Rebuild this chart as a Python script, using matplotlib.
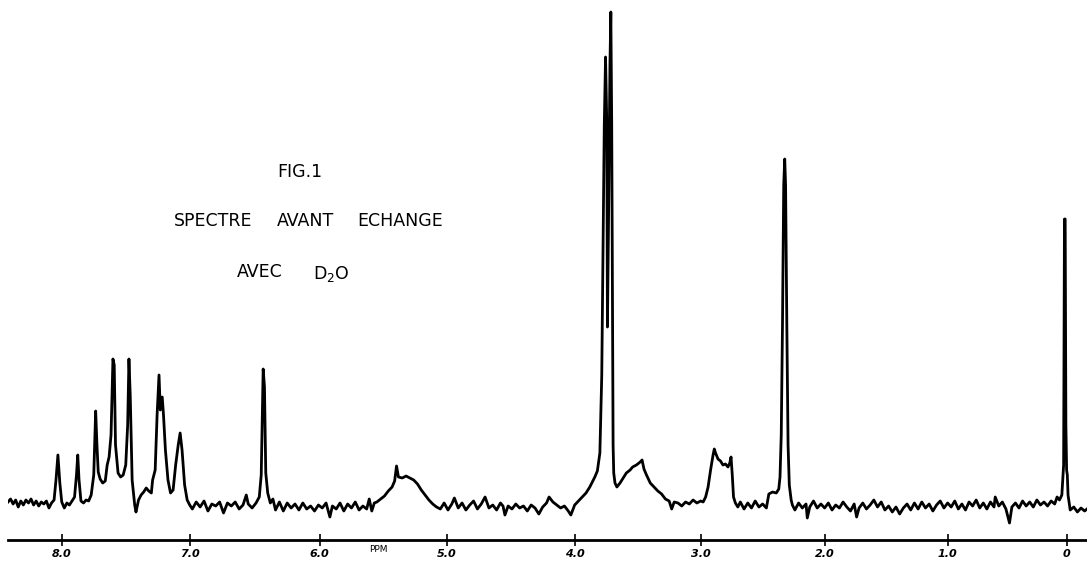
import numpy as np
import matplotlib
matplotlib.use("Agg")
import matplotlib.pyplot as plt

# spectrum trace: (ppm, signal in arbitrary units)
trace = [
    (8.42, 3), (8.40, 6), (8.38, 1), (8.36, 5), (8.34, -2), (8.32, 4), (8.30, 0), (8.28, 5),
    (8.26, 2), (8.24, 6), (8.22, 0), (8.20, 4), (8.18, -1), (8.16, 3), (8.14, 1), (8.12, 4),
    (8.10, -3), (8.08, 2), (8.06, 5), (8.045, 25), (8.03, 50), (8.015, 22), (8.00, 3),
    (7.98, -3), (7.96, 2), (7.94, 0), (7.92, 4), (7.90, 8), (7.885, 30), (7.875, 50),
    (7.865, 25), (7.85, 4), (7.83, 2), (7.81, 5), (7.79, 4), (7.77, 10), (7.75, 30),
    (7.735, 94), (7.725, 60), (7.715, 33), (7.70, 26), (7.68, 22), (7.66, 24), (7.645, 40),
    (7.63, 48), (7.615, 70), (7.60, 146), (7.59, 140), (7.58, 60), (7.56, 32), (7.54, 28),
    (7.52, 30), (7.50, 40), (7.485, 80), (7.475, 146), (7.465, 110), (7.45, 25), (7.43, 0),
    (7.42, -7), (7.40, 5), (7.38, 10), (7.36, 13), (7.34, 17), (7.32, 14), (7.30, 12),
    (7.29, 25), (7.27, 35), (7.255, 90), (7.24, 130), (7.23, 95), (7.215, 108), (7.205, 90),
    (7.19, 55), (7.17, 25), (7.15, 12), (7.13, 15), (7.11, 40), (7.09, 60), (7.075, 72),
    (7.06, 55), (7.04, 20), (7.02, 5), (7.00, 0),
    (6.98, -4), (6.95, 3), (6.92, -2), (6.89, 4), (6.86, -6), (6.83, 1), (6.80, -1), (6.77, 3),
    (6.74, -8), (6.71, 2), (6.68, -1), (6.65, 3), (6.62, -4), (6.59, 0), (6.565, 10), (6.55, 1),
    (6.52, -3), (6.49, 2), (6.465, 8), (6.45, 30), (6.435, 136), (6.425, 118), (6.415, 32),
    (6.40, 12), (6.38, 2), (6.36, 6), (6.34, -5), (6.31, 3), (6.28, -6), (6.25, 2), (6.22, -3),
    (6.19, 1), (6.16, -5), (6.13, 2), (6.10, -4), (6.07, -1), (6.04, -6), (6.01, 0), (5.98, -3),
    (5.95, 2), (5.92, -12), (5.90, -1), (5.87, -4), (5.84, 2), (5.81, -6), (5.78, 1), (5.75, -3),
    (5.72, 3), (5.69, -5), (5.66, -1), (5.63, -4), (5.61, 6), (5.59, -6), (5.57, 2),
    (5.55, 3), (5.52, 6), (5.49, 9), (5.46, 14), (5.43, 18), (5.41, 24), (5.395, 39),
    (5.38, 28), (5.35, 27), (5.32, 29), (5.29, 27), (5.26, 25), (5.23, 21), (5.20, 15),
    (5.17, 10), (5.14, 5), (5.11, 1), (5.08, -2), (5.05, -4),
    (5.02, 2), (4.99, -5), (4.96, 1), (4.94, 7), (4.91, -3), (4.88, 2), (4.85, -5), (4.82, 0),
    (4.79, 4), (4.76, -4), (4.73, 1), (4.70, 8), (4.67, -3), (4.64, 0), (4.61, -5), (4.58, 2),
    (4.56, -1), (4.545, -10), (4.52, -1), (4.49, -4), (4.46, 1), (4.43, -3), (4.40, -1),
    (4.37, -6), (4.34, 0), (4.31, -3), (4.28, -9), (4.25, -2), (4.22, 2), (4.20, 8), (4.17, 3),
    (4.14, 0), (4.11, -3), (4.08, -1), (4.05, -6), (4.03, -10), (4.00, 0), (3.97, 4), (3.94, 8),
    (3.91, 12), (3.88, 18), (3.86, 23),
    (3.84, 28), (3.82, 34), (3.80, 52), (3.785, 130), (3.775, 260), (3.765, 380), (3.755, 448),
    (3.745, 380), (3.74, 178), (3.73, 300), (3.72, 440), (3.713, 493), (3.706, 380), (3.70, 200),
    (3.695, 60), (3.69, 32), (3.68, 22),
    (3.665, 18), (3.64, 22), (3.62, 26), (3.59, 32), (3.56, 35), (3.54, 38), (3.51, 40),
    (3.48, 43), (3.465, 45), (3.45, 36), (3.43, 30), (3.40, 22), (3.37, 18), (3.34, 14),
    (3.31, 11), (3.28, 6), (3.25, 4), (3.23, -4), (3.21, 3), (3.18, 2), (3.15, -1), (3.12, 3),
    (3.09, 1), (3.06, 5), (3.03, 2), (3.00, 4), (2.98, 3),
    (2.96, 8), (2.94, 18), (2.92, 35), (2.90, 50), (2.89, 56), (2.88, 52), (2.86, 46),
    (2.84, 44), (2.82, 40), (2.80, 41), (2.78, 38), (2.765, 42), (2.755, 48), (2.745, 30),
    (2.735, 8), (2.72, 2), (2.70, -2),
    (2.68, 3), (2.65, -4), (2.62, 2), (2.59, -3), (2.56, 4), (2.53, -2), (2.50, 1), (2.47, -3),
    (2.45, 11), (2.42, 13), (2.39, 12), (2.37, 16), (2.36, 28), (2.35, 70), (2.34, 180),
    (2.33, 320), (2.322, 346), (2.315, 320), (2.305, 180), (2.295, 60), (2.285, 20),
    (2.27, 5), (2.26, 0), (2.24, -5), (2.21, 2), (2.18, -3), (2.15, 1), (2.14, -13), (2.12, -2),
    (2.09, 4), (2.06, -3), (2.03, 1),
    (2.00, -3), (1.97, 2), (1.94, -5), (1.91, 0), (1.88, -3), (1.85, 3), (1.82, -2), (1.79, -6),
    (1.76, 1), (1.74, -12), (1.72, -3), (1.69, 2), (1.66, -4), (1.63, 0), (1.60, 5), (1.57, -2),
    (1.54, 3), (1.51, -5), (1.48, -1), (1.45, -7), (1.42, -2), (1.39, -9), (1.36, -3), (1.33, 1),
    (1.30, -5), (1.27, 2), (1.24, -4), (1.21, 3), (1.18, -3), (1.15, 1), (1.12, -6), (1.09, 0),
    (1.06, 4), (1.03, -3), (1.00, 2), (0.97, -2), (0.94, 4), (0.91, -4), (0.88, 1), (0.85, -5),
    (0.82, 3), (0.79, -1), (0.76, 5), (0.73, -3), (0.70, 2), (0.67, -4), (0.64, 3), (0.61, -2),
    (0.60, 8), (0.57, -1), (0.54, 3), (0.51, -4), (0.48, -18), (0.46, -2), (0.43, 2), (0.40, -3),
    (0.37, 4), (0.34, -1), (0.31, 3), (0.28, -2), (0.25, 5), (0.22, 0), (0.19, 3), (0.16, -1),
    (0.13, 4), (0.10, 1),
    (0.08, 8), (0.06, 5), (0.04, 10), (0.025, 40), (0.018, 286), (0.012, 286), (0.006, 80),
    (0.0, 35), (-0.006, 30), (-0.012, 10), (-0.03, -5), (-0.06, -2), (-0.09, -7), (-0.12, -3),
    (-0.15, -6), (-0.17, -4),
]
ppm = np.array([p for p, _ in trace])
signal = np.array([s for _, s in trace])

tick_ppm = [8, 7, 6, 5, 4, 3, 2, 1, 0]
tick_labels = ["8.0", "7.0", "6.0", "5.0", "4.0", "3.0", "2.0", "1.0", "0"]

# the recorder paper is not perfectly linear: where each ppm mark sits (px)
cal_ppm = np.array([-1, 0, 1, 2, 3, 4, 5, 6, 7, 8, 9])
cal_px = np.array([1187, 1067, 948, 825, 701, 575, 447, 320, 190, 62, -66])


def fwd(v):
    return -np.interp(v, cal_ppm, cal_px)


def inv(u):
    return np.interp(u, -cal_px, cal_ppm)


W, H = 1087, 565
fig = plt.figure(figsize=(W / 100, H / 100), dpi=100)
ax = fig.add_axes([8 / W, 25 / H, 1079 / W, 540 / H])

ax.plot(ppm, signal, color="black", lw=2.0, solid_joinstyle="round")

ax.set_xscale("function", functions=(fwd, inv))
ax.set_xlim(8.42, -0.17)
ax.set_ylim(-35, 505)

for s in ["top", "left", "right"]:
    ax.spines[s].set_visible(False)
ax.spines["bottom"].set_linewidth(2.0)
ax.set_yticks([])
ax.set_xticks(tick_ppm)
ax.set_xticklabels(tick_labels)
ax.xaxis.set_minor_locator(matplotlib.ticker.NullLocator())
ax.tick_params(axis="x", direction="inout", length=9, width=1.2, pad=2,
               labelsize=8)
for lab in ax.get_xticklabels():
    lab.set_fontweight("bold")
    lab.set_fontstyle("italic")

ax.text(5.54, -44, "PPM", fontsize=6.5, ha="center", va="center", clip_on=False)

# annotation block, word by word as lettered on the original
words = [
    ("FIG.1", 300, 172),
    ("SPECTRE", 213, 221), ("AVANT", 305, 221), ("ECHANGE", 400, 221),
    ("AVEC", 260, 272), ("D$_2$O", 331, 274),
]
for txt, px, py in words:
    fig.text(px / W, 1 - py / H, txt, fontsize=12.5, ha="center", va="center",
             family="DejaVu Sans")

fig.savefig("out.png", dpi=100)
